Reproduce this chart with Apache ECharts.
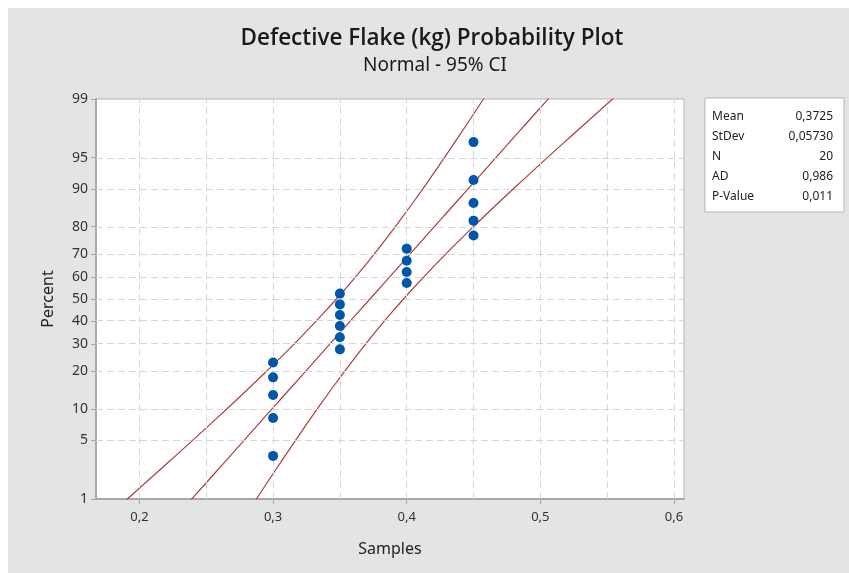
<!DOCTYPE html>
<html>
<head>
<meta charset="utf-8">
<script src="https://cdn.jsdelivr.net/npm/echarts@6/dist/echarts.min.js"></script>
<style>
  html, body { margin: 0; padding: 0; background: #e4e4e4; overflow: hidden; }
  #chart { position: absolute; left: 0; top: 0; width: 849px; height: 573px; }
  .strip { position: absolute; background: #ffffff; }
</style>
</head>
<body>
<div id="chart"></div>
<div class="strip" style="left:0;top:0;width:8px;height:573px;"></div>
<div class="strip" style="left:0;top:0;width:849px;height:8px;"></div>
<script>
// Sample values and their plotted percents (median ranks)
const samples = [0.30, 0.30, 0.30, 0.30, 0.30,
                 0.35, 0.35, 0.35, 0.35, 0.35, 0.35,
                 0.40, 0.40, 0.40, 0.40,
                 0.45, 0.45, 0.45, 0.45, 0.45];
const percents = [3.4, 8.3, 13.2, 18.1, 23.0,
                  27.9, 32.8, 37.7, 42.6, 47.5, 52.5,
                  57.4, 62.3, 67.2, 72.1,
                  77.0, 81.9, 86.8, 91.7, 96.6];

// Fit statistics shown in the box
const statNames = ["Mean", "StDev", "N", "AD", "P-Value"];
const statValues = ["0,3725", "0,05730", "20", "0,986", "0,011"];
const MEAN = 0.3725;
const STDEV = 0.05730;
const N = 20;

const yTickPercents = [1, 5, 10, 20, 30, 40, 50, 60, 70, 80, 90, 95, 99];
const xTickValues = [0.2, 0.3, 0.4, 0.5, 0.6];
const xGridValues = [0.2, 0.25, 0.3, 0.35, 0.4, 0.45, 0.5, 0.55, 0.6];

// inverse normal cdf (Acklam)
function probit(p) {
  const a = [-3.969683028665376e+01, 2.209460984245205e+02, -2.759285104469687e+02,
             1.383577518672690e+02, -3.066479806614716e+01, 2.506628277459239e+00];
  const b = [-5.447609879822406e+01, 1.615858368580409e+02, -1.556989798598866e+02,
             6.680131188771972e+01, -1.328068155288572e+01];
  const c = [-7.784894002430293e-03, -3.223964580411365e-01, -2.400758277161838e+00,
             -2.549732539343734e+00, 4.374664141464968e+00, 2.938163982698783e+00];
  const d = [7.784695709041462e-03, 3.224671290700398e-01, 2.445134137142996e+00,
             3.754408661907416e+00];
  const pl = 0.02425;
  let q, r;
  if (p < pl) {
    q = Math.sqrt(-2 * Math.log(p));
    return (((((c[0]*q+c[1])*q+c[2])*q+c[3])*q+c[4])*q+c[5]) / ((((d[0]*q+d[1])*q+d[2])*q+d[3])*q+1);
  }
  if (p <= 1 - pl) {
    q = p - 0.5; r = q * q;
    return (((((a[0]*r+a[1])*r+a[2])*r+a[3])*r+a[4])*r+a[5])*q / (((((b[0]*r+b[1])*r+b[2])*r+b[3])*r+b[4])*r+1);
  }
  q = Math.sqrt(-2 * Math.log(1 - p));
  return -(((((c[0]*q+c[1])*q+c[2])*q+c[3])*q+c[4])*q+c[5]) / ((((d[0]*q+d[1])*q+d[2])*q+d[3])*q+1);
}

const yTickZ = yTickPercents.map(p => probit(p / 100));
const zMin = yTickZ[0];
const zMax = yTickZ[yTickZ.length - 1];

const points = samples.map((x, i) => [x, probit(percents[i] / 100)]);

// fitted line and 95% CI from the shown Mean / StDev / N
const fit = [], lower = [], upper = [];
for (let k = 0; k <= 80; k++) {
  const z = -2.9 + k * 5.8 / 80;
  const x = MEAN + STDEV * z;
  const half = 1.96 * STDEV * Math.sqrt(1 / N + z * z / (2 * N));
  fit.push([x, z]);
  lower.push([x - half, z]);
  upper.push([x + half, z]);
}

const gridStyle = { color: "#d6d6d6", type: [7, 4], width: 1 };
const gridLines = xGridValues.map(v => ({ xAxis: v }))
  .concat(yTickZ.slice(1, -1).map(v => ({ yAxis: v })));

const lineColor = "#b03c3c";
const font = "'Noto Sans', 'Open Sans', sans-serif";

const chart = echarts.init(document.getElementById("chart"), null, { renderer: "canvas" });

const rowY = [117, 137, 157, 177, 197];
const statGraphics = [];
statNames.forEach((s, i) => {
  statGraphics.push({ type: "text", x: 712, y: rowY[i],
    style: { text: s, font: "12px " + font, fill: "#222", textAlign: "left", textVerticalAlign: "middle" } });
  statGraphics.push({ type: "text", x: 833, y: rowY[i],
    style: { text: statValues[i], font: "12px " + font, fill: "#222", textAlign: "right", textVerticalAlign: "middle" } });
});

chart.setOption({
  backgroundColor: "transparent",
  animation: false,
  textStyle: { fontFamily: font },
  grid: {
    left: 96, top: 99, right: 165, bottom: 74,
    show: true, backgroundColor: "#ffffff", borderColor: "#b4b4b4", borderWidth: 1
  },
  xAxis: {
    type: "value", min: 0.1675, max: 0.6075,
    name: "Samples", nameLocation: "middle", nameGap: 42,
    nameTextStyle: { fontSize: 16, color: "#222" },
    axisLine: { onZero: false, lineStyle: { color: "#a8a8a8", width: 2 } },
    axisTick: { show: true, length: 5, customValues: xTickValues, lineStyle: { color: "#a8a8a8" } },
    axisLabel: { customValues: xTickValues, fontSize: 13, color: "#333", margin: 12,
      formatter: v => v.toFixed(1).replace(".", ",") },
    splitLine: { show: false }
  },
  yAxis: {
    type: "value", min: zMin, max: zMax,
    name: "Percent", nameLocation: "middle", nameGap: 40, nameRotate: 90,
    nameTextStyle: { fontSize: 16, color: "#222" },
    axisLine: { show: true, onZero: false, lineStyle: { color: "#a8a8a8", width: 2 } },
    axisTick: { show: true, length: 5, customValues: yTickZ, lineStyle: { color: "#a8a8a8" } },
    axisLabel: { customValues: yTickZ, fontSize: 14, color: "#333", margin: 8,
      formatter: v => {
        let best = 0;
        yTickZ.forEach((z, i) => { if (Math.abs(z - v) < Math.abs(yTickZ[best] - v)) best = i; });
        return String(yTickPercents[best]);
      } },
    splitLine: { show: false }
  },
  graphic: [
    { type: "text", x: 432, y: 39, style: { text: "Defective Flake (kg) Probability Plot",
      font: "600 22.5px 'Open Sans', 'Noto Sans', sans-serif", fill: "#1a1a1a", textAlign: "center", textVerticalAlign: "middle" } },
    { type: "text", x: 435, y: 66, style: { text: "Normal - 95% CI",
      font: "19px " + font, fill: "#1a1a1a", textAlign: "center", textVerticalAlign: "middle" } },
    { type: "rect", shape: { x: 705, y: 98, width: 139, height: 114 },
      style: { fill: "#ffffff", stroke: "#b4b4b4", lineWidth: 1 } }
  ].concat(statGraphics),
  series: [
    { type: "line", data: [], silent: true,
      markLine: { silent: true, symbol: "none", label: { show: false }, lineStyle: gridStyle, data: gridLines } },
    { type: "line", data: lower, showSymbol: false, clip: true, lineStyle: { color: lineColor, width: 1.2 } },
    { type: "line", data: fit, showSymbol: false, clip: true, lineStyle: { color: lineColor, width: 1.2 } },
    { type: "line", data: upper, showSymbol: false, clip: true, lineStyle: { color: lineColor, width: 1.2 } },
    { type: "scatter", data: points, symbolSize: 10, itemStyle: { color: "#0056a8", opacity: 1 }, z: 5 }
  ]
});
</script>
</body>
</html>
